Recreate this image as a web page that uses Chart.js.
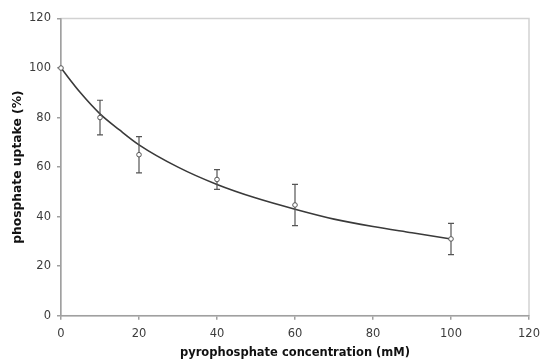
<!DOCTYPE html>
<html>
<head>
<meta charset="utf-8">
<script src="https://cdn.jsdelivr.net/npm/chart.js@4"></script>
<style>
  html, body { margin: 0; padding: 0; background: #fff; }
  canvas { display: block; }
</style>
</head>
<body>
<canvas id="chart" width="541" height="360"></canvas>
<script>
// --- data ---
const concentrations = [0, 10, 20, 40, 60, 100];
const uptake = [100, 80, 65, 55, 44.7, 31];
const uptakeError = [0, 7, 7.3, 4, 8.3, 6.3];

// fitted curve at a few points
const fitX = [0, 5, 10, 15, 20, 30, 40, 50, 60, 70, 80, 90, 100];
const fitY = [100, 90, 81.5, 75, 69, 60, 53, 47.5, 43, 39, 36, 33.5, 31];

const xTicks = [0, 20, 40, 60, 80, 100, 120];
const yTicks = [0, 20, 40, 60, 80, 100, 120];

const FONT = "'DejaVu Sans', Verdana, sans-serif";
const AXIS_GREY = '#a0a0a0';
const INK = '#3a3a3a';

// light frame round the plot area (top + right edges visible)
const frame = {
    id: 'frame',
    beforeDraw(chart) {
        const { ctx, chartArea: a } = chart;
        ctx.save();
        ctx.strokeStyle = '#d2d2d2';
        ctx.lineWidth = 1.5;
        ctx.strokeRect(a.left, a.top, a.right - a.left, a.bottom - a.top);
        ctx.restore();
    }
};

// vertical error bars with caps, drawn through the chart scales
const errorBars = {
    id: 'errorBars',
    afterDatasetsDraw(chart) {
        const { ctx, scales: { x, y } } = chart;
        ctx.save();
        ctx.strokeStyle = '#555';
        ctx.lineWidth = 1.2;
        concentrations.forEach((c, i) => {
            const e = uptakeError[i];
            if (!e) return;
            const px = x.getPixelForValue(c);
            const top = y.getPixelForValue(uptake[i] + e);
            const bot = y.getPixelForValue(uptake[i] - e);
            ctx.beginPath();
            ctx.moveTo(px, top); ctx.lineTo(px, bot);
            ctx.moveTo(px - 3, top); ctx.lineTo(px + 3, top);
            ctx.moveTo(px - 3, bot); ctx.lineTo(px + 3, bot);
            ctx.stroke();
        });
        // markers on top of the bars
        const meta = chart.getDatasetMeta(1);
        meta.data.forEach(pt => {
            ctx.beginPath();
            ctx.arc(pt.x, pt.y, 2.3, 0, Math.PI * 2);
            ctx.fillStyle = '#fff';
            ctx.fill();
            ctx.strokeStyle = '#555';
            ctx.lineWidth = 1;
            ctx.stroke();
        });
        ctx.restore();
    }
};

new Chart(document.getElementById('chart'), {
    type: 'scatter',
    data: {
        datasets: [
            {
                label: 'fit',
                data: fitX.map((v, i) => ({ x: v, y: fitY[i] })),
                showLine: true,
                borderColor: INK,
                borderWidth: 1.6,
                pointRadius: 0,
                cubicInterpolationMode: 'monotone',
                fill: false
            },
            {
                label: 'measured',
                data: concentrations.map((v, i) => ({ x: v, y: uptake[i] })),
                showLine: false,
                pointRadius: 0
            }
        ]
    },
    options: {
        responsive: false,
        animation: false,
        events: [],
        layout: { padding: { top: 18.5, right: 12, bottom: 0, left: 0 } },
        plugins: { legend: { display: false }, tooltip: { enabled: false } },
        scales: {
            x: {
                type: 'linear',
                min: 0, max: 120,
                afterBuildTicks: s => { s.ticks = xTicks.map(v => ({ value: v })); },
                afterFit: s => { s.height = 44.3; s.paddingLeft = 0; s.paddingRight = 0; },
                border: { color: AXIS_GREY, width: 1.5 },
                grid: { drawOnChartArea: false, color: AXIS_GREY, tickLength: 4, lineWidth: 1.5 },
                ticks: { color: '#3c3c3c', font: { family: FONT, size: 11.5 }, padding: 7, maxRotation: 0 },
                title: {
                    display: true,
                    text: 'pyrophosphate concentration (mM)',
                    color: '#111',
                    font: { family: FONT, size: 11.5, weight: 'bold' },
                    padding: { top: 0, bottom: 0.5 }
                }
            },
            y: {
                type: 'linear',
                min: 0, max: 120,
                afterBuildTicks: s => { s.ticks = yTicks.map(v => ({ value: v })); },
                afterFit: s => { s.width = 61; s.paddingTop = 0; s.paddingBottom = 0; },
                border: { color: AXIS_GREY, width: 1.5 },
                grid: { drawOnChartArea: false, color: AXIS_GREY, tickLength: 4, lineWidth: 1.5 },
                ticks: { color: '#3c3c3c', font: { family: FONT, size: 11.5 }, padding: 6 },
                title: {
                    display: true,
                    text: 'phosphate uptake (%)',
                    color: '#111',
                    font: { family: FONT, size: 12.3, weight: 'bold' },
                    padding: { top: 10, bottom: 0 }
                }
            }
        }
    },
    plugins: [frame, errorBars]
});
</script>
</body>
</html>
